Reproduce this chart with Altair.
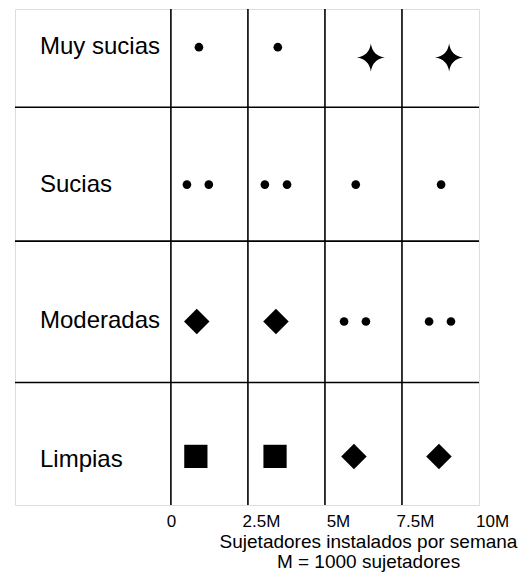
import altair as alt
import pandas as pd

# ---- data ----
row_labels = ["Muy sucias", "Sucias", "Moderadas", "Limpias"]
row_label_y = [7.7, 35.5, 63.0, 91.0]          # vertical position (0 = top, 100 = bottom)
row_dividers = [19.8, 46.8, 75.3]               # horizontal lines between rows
column_dividers = [0, 2.5, 5, 7.5]              # vertical lines (M sujetadores)
tick_values = [0, 2.5, 5, 7.5, 10]
tick_labels = ["0", "2.5M", "5M", "7.5M", "10M"]

sym_x = [0.91, 3.47, 6.49, 9.03,
         0.52, 1.23, 3.05, 3.77, 6.00, 8.77,
         0.84, 3.41, 5.62, 6.33, 8.38, 9.09,
         0.81, 3.38, 5.94, 8.70]
sym_y = [7.7, 7.7, 9.8, 9.8,
         35.4, 35.4, 35.4, 35.4, 35.4, 35.4,
         63.0, 63.0, 63.0, 63.0, 63.0, 63.0,
         90.2, 90.2, 90.2, 90.2]
sym_kind = ["punto", "punto", "estrella", "estrella",
            "punto", "punto", "punto", "punto", "punto", "punto",
            "rombo", "rombo", "punto", "punto", "punto", "punto",
            "cuadrado", "cuadrado", "rombo", "rombo"]

kinds = ["punto", "estrella", "rombo", "cuadrado"]
star_path = "M0,-1 Q0.12,-0.12 1,0 Q0.12,0.12 0,1 Q-0.12,0.12 -1,0 Q-0.12,-0.12 0,-1 Z"
kind_shapes = ["circle", star_path, "diamond", "square"]
kind_sizes = [75, 800, 650, 540]

symbols = pd.DataFrame({"x": sym_x, "y": sym_y, "kind": sym_kind})
labels_df = pd.DataFrame({"label": row_labels, "y": row_label_y, "x": [-4.25] * len(row_labels)})
hlines = pd.DataFrame({"y": row_dividers})
vlines = pd.DataFrame({"x": column_dividers})

FONT = "Liberation Sans"

label_expr = " : ".join(
    f"datum.value == {v} ? '{l}'" for v, l in zip(tick_values, tick_labels)
) + " : ''"

x_axis = alt.Axis(
    values=tick_values,
    labelExpr=label_expr,
    grid=False, ticks=False, domain=False,
    labelFont=FONT, labelFontSize=17, labelColor="black",
    labelPadding=8, labelFlush=False, labelOverlap=False,
    labelOffset={"condition": {"test": "datum.value == 0", "value": 0}, "value": 13},
    title=["Sujetadores instalados por semana", "M = 1000 sujetadores"],
    titleFont=FONT, titleFontSize=19, titleFontWeight="normal", titleColor="black",
    titleLineHeight=20, titleAlign="center", titleAnchor="start",
    titleX=353, titleY=27, titleBaseline="top",
)
x_scale = alt.Scale(domain=[-5.06, 10], nice=False, zero=False)
y_scale = alt.Scale(domain=[0, 100], reverse=True, nice=False, zero=False)

def X(field):
    return alt.X(field, scale=x_scale, axis=x_axis)

def Y(field):
    return alt.Y(field, scale=y_scale, axis=None)

vrules = alt.Chart(vlines).mark_rule(color="black", strokeWidth=1.6).encode(x=X("x:Q"))
hrules = alt.Chart(hlines).mark_rule(color="black", strokeWidth=1.6).encode(y=Y("y:Q"))

text = alt.Chart(labels_df).mark_text(
    align="left", baseline="middle", font=FONT, fontSize=24, color="black"
).encode(x=X("x:Q"), y=Y("y:Q"), text="label:N")

points = alt.Chart(symbols).mark_point(filled=True, color="black", opacity=1, strokeWidth=0).encode(
    x=X("x:Q"),
    y=Y("y:Q"),
    shape=alt.Shape("kind:N", scale=alt.Scale(domain=kinds, range=kind_shapes), legend=None),
    size=alt.Size("kind:N", scale=alt.Scale(type="ordinal", domain=kinds, range=kind_sizes), legend=None),
)

chart = alt.layer(vrules, hrules, text, points).properties(
    width=464, height=496,
    padding={"left": 6, "top": 0, "right": 5, "bottom": 5},
).configure_view(stroke="black", strokeWidth=1.6).configure(background="white")

chart.save("out.html", embed_options={"renderer": "svg", "actions": False})
